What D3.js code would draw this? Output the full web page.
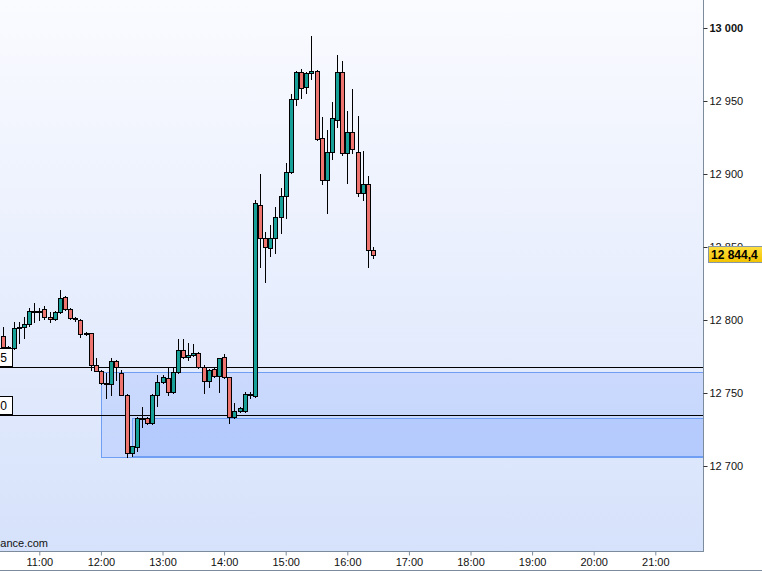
<!DOCTYPE html>
<html>
<head>
<meta charset="utf-8">
<script src="https://cdn.jsdelivr.net/npm/d3@7"></script>
<style>
  html, body { margin: 0; padding: 0; background: #ffffff; }
  svg { display: block; }
  text { font-family: "Liberation Sans", Arial, sans-serif; }
</style>
</head>
<body>
<svg id="chart" width="762" height="571"></svg>
<script>
// ---- DATA (5-minute candles) ----
const times = ["10:25","10:30","10:35","10:40","10:45","10:50","10:55","11:00","11:05","11:10","11:15","11:20","11:25","11:30","11:35","11:40","11:45","11:50","11:55","12:00","12:05","12:10","12:15","12:20","12:25","12:30","12:35","12:40","12:45","12:50","12:55","13:00","13:05","13:10","13:15","13:20","13:25","13:30","13:35","13:40","13:45","13:50","13:55","14:00","14:05","14:10","14:15","14:20","14:25","14:30","14:35","14:40","14:45","14:50","14:55","15:00","15:05","15:10","15:15","15:20","15:25","15:30","15:35","15:40","15:45","15:50","15:55","16:00","16:05","16:10","16:15","16:20","16:25"];
const opens  = [12789.0,12781.7,12780.6,12794.3,12795.4,12797.1,12806.4,12806.0,12807.3,12801.8,12800.5,12805.3,12815.5,12807.3,12801.2,12800.0,12791.0,12790.9,12769.2,12765.1,12756.6,12756.2,12771.9,12763.9,12748.6,12708.7,12712.8,12732.7,12733.0,12729.7,12748.6,12757.3,12760.1,12750.5,12764.6,12779.5,12774.5,12776.0,12777.2,12767.6,12758.4,12766.2,12761.8,12774.5,12760.8,12733.4,12737.5,12738.0,12749.1,12748.0,12878.8,12856.0,12849.1,12856.0,12870.3,12884.9,12901.6,12951.2,12969.7,12959.4,12969.0,12970.8,12924.5,12895.9,12915.3,12937.0,12970.1,12914.2,12929.0,12915.3,12886.8,12892.9,12847.9];
const highs  = [12795.0,12782.0,12798.8,12798.8,12801.8,12808.0,12811.4,12808.0,12809.6,12805.3,12806.0,12820.5,12816.4,12808.0,12801.8,12800.5,12791.5,12791.0,12773.8,12765.5,12763.9,12773.8,12772.5,12766.0,12749.0,12714.0,12733.4,12740.4,12733.5,12749.0,12762.3,12762.3,12767.6,12767.6,12786.8,12786.8,12784.5,12783.6,12778.0,12769.2,12766.5,12768.0,12774.0,12776.7,12761.0,12742.9,12740.6,12750.9,12751.0,12882.2,12900.0,12860.5,12865.1,12877.6,12890.2,12907.3,12954.8,12970.8,12971.7,12970.0,12994.5,12971.5,12938.8,12930.1,12949.5,12981.5,12977.6,12943.4,12958.0,12939.7,12915.8,12898.6,12850.2];
const lows   = [12781.5,12780.2,12780.2,12784.0,12787.5,12795.9,12798.8,12800.0,12801.0,12798.8,12800.0,12805.0,12807.0,12800.5,12799.0,12788.6,12789.8,12765.8,12765.0,12756.0,12746.4,12748.6,12758.9,12748.6,12706.4,12707.0,12710.0,12726.9,12728.5,12728.8,12741.1,12757.0,12748.6,12750.0,12764.0,12774.0,12772.6,12775.5,12767.0,12750.2,12754.3,12761.0,12750.9,12760.0,12729.7,12733.0,12737.0,12737.0,12746.4,12747.0,12836.5,12826.0,12843.8,12846.1,12859.8,12869.7,12901.0,12947.3,12951.8,12955.3,12964.9,12923.0,12893.2,12873.1,12910.1,12932.4,12913.0,12893.6,12914.2,12884.9,12882.2,12836.1,12842.3];
const closes = [12781.7,12780.6,12794.3,12795.4,12797.1,12806.4,12806.0,12806.4,12801.8,12800.5,12805.3,12814.9,12807.3,12801.2,12800.5,12790.2,12790.3,12769.2,12765.1,12756.6,12756.2,12771.9,12767.6,12748.6,12708.7,12713.7,12732.7,12733.0,12729.7,12748.6,12757.3,12760.8,12750.5,12764.6,12779.5,12774.5,12776.0,12777.2,12767.6,12758.4,12765.8,12761.8,12773.8,12760.8,12733.4,12737.7,12739.5,12749.1,12749.5,12879.9,12856.0,12849.8,12856.0,12870.3,12884.9,12901.6,12951.2,12969.7,12958.7,12969.0,12970.8,12923.8,12895.9,12915.3,12938.2,12970.1,12914.2,12929.0,12916.9,12886.8,12892.9,12847.9,12844.4];

const yTicks = [12700, 12750, 12800, 12850, 12900, 12950, 13000];
const xTickLabels = ["11:00","12:00","13:00","14:00","15:00","16:00","17:00","18:00","19:00","20:00","21:00"];
const lastPrice = 12844.4;
const levelLines = [12767.5, 12735.0];
const levelLabels = ["12 767,5", "12 735,0"];
const zoneStarts = ["12:00", "12:30"];
const zoneTops = [12764.2, 12732.7];
const zoneBottoms = [12706.0, 12707.1];
const sourceText = "www.abcbourse-finance.com";

// ---- helpers ----
const toDate = s => { const [h, m] = s.split(":").map(Number); return new Date(2020, 0, 6, h, m); };
const candles = times.map((t, i) => ({ t: toDate(t), o: opens[i], h: highs[i], l: lows[i], c: closes[i] }));

const W = 762, H = 571;
const plotR = 703, plotB = 551;

const x = d3.scaleTime()
  .domain([toDate("10:00"), toDate("22:00")])
  .range([39.3 - 61.6, 39.3 + 11 * 61.6]);
const y = d3.scaleLinear().domain([12700, 13000]).range([466, 28]);

const loc = d3.formatLocale({ decimal: ",", thousands: " ", grouping: [3], currency: ["", ""] });
const fmt0 = loc.format(",.0f");
const fmt1 = loc.format(",.1f");

const svg = d3.select("#chart");
const defs = svg.append("defs");
const bg = defs.append("linearGradient").attr("id", "bg").attr("x1", 0).attr("y1", 0).attr("x2", 0).attr("y2", 1);
bg.append("stop").attr("offset", "0%").attr("stop-color", "#fafbff");
bg.append("stop").attr("offset", "100%").attr("stop-color", "#d6e2fb");
const yl = defs.append("linearGradient").attr("id", "yl").attr("x1", 0).attr("y1", 0).attr("x2", 0).attr("y2", 1);
yl.append("stop").attr("offset", "0%").attr("stop-color", "#ffe040");
yl.append("stop").attr("offset", "100%").attr("stop-color", "#f2c200");
defs.append("clipPath").attr("id", "clip").append("rect").attr("x", 0).attr("y", 0).attr("width", plotR).attr("height", plotB);

svg.append("rect").attr("x", 0).attr("y", 0).attr("width", W).attr("height", H).attr("fill", "#ffffff");
svg.append("rect").attr("x", 0).attr("y", 0).attr("width", plotR).attr("height", plotB).attr("fill", "url(#bg)");

const plot = svg.append("g").attr("clip-path", "url(#clip)");

// zones
const zoneFills = ["rgba(150,180,255,0.30)", "rgba(120,160,255,0.22)"];
zoneStarts.forEach((s, i) => {
  const x0 = Math.round(x(toDate(s)));
  const yt = Math.round(y(zoneTops[i])), yb = Math.round(y(zoneBottoms[i]));
  plot.append("rect")
    .attr("x", x0 + 0.5).attr("y", yt + 0.5)
    .attr("width", plotR + 20 - x0).attr("height", yb - yt)
    .attr("fill", zoneFills[i]).attr("stroke", "#6f9ef5").attr("stroke-width", 1);
});

// level lines
levelLines.forEach(v => {
  const yy = Math.round(y(v)) + 0.5;
  plot.append("line").attr("x1", 0).attr("x2", plotR).attr("y1", yy).attr("y2", yy)
    .attr("stroke", "#000").attr("stroke-width", 1);
});

// candles
const cg = plot.append("g");
candles.forEach(d => {
  const cx = Math.round(x(d.t));
  cg.append("line")
    .attr("x1", cx + 0.5).attr("x2", cx + 0.5)
    .attr("y1", Math.round(y(d.h))).attr("y2", Math.round(y(d.l)) + 1)
    .attr("stroke", "#000").attr("stroke-width", 1);
  const top = Math.round(y(Math.max(d.o, d.c)));
  const bot = Math.round(y(Math.min(d.o, d.c)));
  cg.append("rect")
    .attr("x", cx - 2 + 0.5).attr("y", top + 0.5)
    .attr("width", 4).attr("height", Math.max(bot - top, 1))
    .attr("fill", d.c >= d.o ? "#17a098" : "#ee746f")
    .attr("stroke", "#000").attr("stroke-width", 1);
});

// level labels at left edge
levelLines.forEach((v, i) => {
  const yy = Math.round(y(v));
  const g = svg.append("g");
  g.append("rect").attr("x", -2.5).attr("y", yy - 18.5).attr("width", 15).attr("height", 18)
    .attr("fill", "#ffffff").attr("stroke", "#000").attr("stroke-width", 1);
  g.append("text").attr("x", 7).attr("y", yy - 9).attr("text-anchor", "end")
    .attr("dominant-baseline", "central").attr("font-size", 12).attr("fill", "#000")
    .text(levelLabels[i]);
});

// source text
svg.append("text").attr("x", 48).attr("y", 547).attr("text-anchor", "end")
  .attr("font-size", 11).attr("fill", "#111").text(sourceText);

// borders
svg.append("line").attr("x1", plotR + 0.5).attr("x2", plotR + 0.5).attr("y1", 0).attr("y2", plotB + 1)
  .attr("stroke", "#7d8c9c");
svg.append("line").attr("x1", 0).attr("x2", plotR + 1).attr("y1", plotB + 0.5).attr("y2", plotB + 0.5)
  .attr("stroke", "#7d8c9c");
svg.append("line").attr("x1", 0).attr("x2", W).attr("y1", 570.5).attr("y2", 570.5)
  .attr("stroke", "#7d8c9c");

// y axis
const yAxis = d3.axisRight(y).tickValues(yTicks).tickSize(4).tickPadding(2)
  .tickFormat(d => fmt0(d));
const ya = svg.append("g").attr("transform", `translate(${plotR + 0.5},0)`).call(yAxis);
ya.select(".domain").remove();
ya.selectAll(".tick line").attr("stroke", "#333");
ya.selectAll(".tick text").attr("font-size", 11).attr("fill", "#111")
  .attr("font-family", "'Liberation Sans', Arial, sans-serif")
  .attr("font-weight", d => d % 1000 === 0 ? "bold" : "normal");

// x axis
const xAxis = d3.axisBottom(x).tickValues(xTickLabels.map(toDate)).tickSize(4).tickPadding(3)
  .tickFormat(d3.timeFormat("%H:%M"));
const xa = svg.append("g").attr("transform", `translate(0,${plotB + 0.5})`).call(xAxis);
xa.select(".domain").remove();
xa.selectAll(".tick line").attr("stroke", "#7d8c9c");
xa.selectAll(".tick text").attr("font-size", 11).attr("fill", "#111")
  .attr("font-family", "'Liberation Sans', Arial, sans-serif");

// last price label
const ly = Math.round(y(lastPrice));
svg.append("rect").attr("x", 708.5).attr("y", ly - 8.5).attr("width", 56).attr("height", 16)
  .attr("fill", "url(#yl)").attr("stroke", "#8797a8").attr("stroke-width", 1);
svg.append("text").attr("x", 711).attr("y", ly).attr("dominant-baseline", "central")
  .attr("font-size", 12).attr("font-weight", "bold").attr("fill", "#000").text(fmt1(lastPrice));
</script>
</body>
</html>
